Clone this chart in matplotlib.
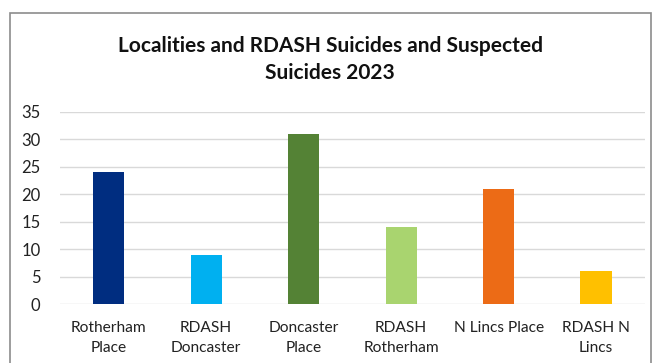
import matplotlib.pyplot as plt
from matplotlib.patches import Rectangle

categories = ['Rotherham\nPlace', 'RDASH\nDoncaster', 'Doncaster\nPlace',
              'RDASH\nRotherham', 'N Lincs Place', 'RDASH N\nLincs']
values = [24, 9, 31, 14, 21, 6]
colors = ['#002D80', '#00B0F0', '#548235', '#A9D46F', '#EC6B16', '#FFC000']

plt.rcParams['font.family'] = ['Lato', 'DejaVu Sans']

fig = plt.figure(figsize=(6.6, 3.63), dpi=100)
ax = fig.add_axes([0.0909, 0.1625, 0.886, 0.529])

x = range(len(categories))
ax.bar(x, values, width=0.32, color=colors, zorder=2)
ax.set_xlim(-0.5, len(categories) - 0.5)
ax.set_ylim(0, 35)
ax.set_yticks(range(0, 36, 5))
ax.set_xticks(list(x))
ax.set_xticklabels(categories, fontsize=11.2, color='#222222', linespacing=1.55)
ax.tick_params(axis='y', labelsize=12, labelcolor='#222222', length=0, pad=14)
ax.tick_params(axis='x', length=0, pad=12)
ax.grid(axis='y', color='#D9D9D9', linewidth=1, zorder=0)
for s in ax.spines.values():
    s.set_visible(False)

fig.text(0.5, 0.835, 'Localities and RDASH Suicides and Suspected\nSuicides 2023',
         ha='center', va='center', fontsize=15, fontweight='bold',
         color='#111111', linespacing=1.45)

# chart border
fig.patches.append(Rectangle((10 / 660, -0.05), 641 / 660, 1 - 13 / 363 + 0.05,
                             transform=fig.transFigure, fill=False,
                             edgecolor='#8C8C8C', linewidth=1.2))

fig.savefig('out.png', dpi=100)
